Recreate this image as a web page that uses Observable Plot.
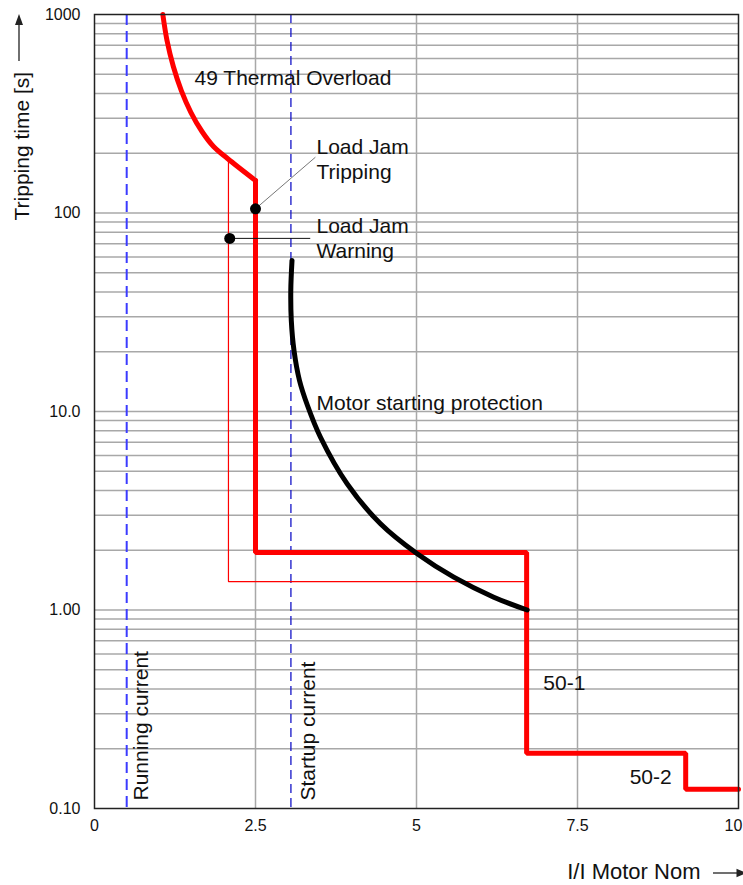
<!DOCTYPE html>
<html><head><meta charset="utf-8">
<script src="https://cdn.jsdelivr.net/npm/d3@7"></script>
<script src="https://cdn.jsdelivr.net/npm/@observablehq/plot@0.6"></script>
<style>
html,body{margin:0;padding:0;background:#fff;}
#chart svg{display:block;}
</style>
</head><body><div id="chart"></div>
<script>
// ---- tick labels ----
const xTicks = [0, 2.5, 5, 7.5];
const xTickLabels = ["0", "2.5", "5", "7.5"];
const xLastTick = [10];
const xLastTickLabel = ["10"];
const yTicks = [0.1, 1, 10, 100, 1000];
const yTickLabels = ["0.10", "1.00", "10.0", "100", "1000"];
const xGrid = [2.5, 5, 7.5];
const yGrid = [0.2, 0.3, 0.4, 0.5, 0.6, 0.7, 0.8, 0.9, 1,
               2, 3, 4, 5, 6, 7, 8, 9, 10,
               20, 30, 40, 50, 60, 70, 80, 90, 100,
               200, 300, 400, 500, 600, 700, 800, 900];

// ---- reference currents ----
const runningCurrent = 0.5;
const startupCurrent = 3.05;

// ---- 49 Thermal overload curve ----
const thermalI = [1.061, 1.126, 1.224, 1.348, 1.498, 1.669, 1.848, 2.065, 2.5];
const thermalT = [1000, 739.6, 547, 414, 320.8, 257.4, 216.3, 188.2, 145.8];

// ---- Load jam tripping + 50-1 / 50-2 step ----
const stepI = [2.5, 2.5, 6.71, 6.71, 9.18, 9.18, 10];
const stepT = [145.8, 1.95, 1.95, 0.19, 0.19, 0.125, 0.125];

// ---- Load jam warning (thin) ----
const warnI = [2.08, 2.08, 6.71];
const warnT = [186, 1.39, 1.39];

// ---- Motor starting protection ----
const startI = [3.067, 3.048, 3.056, 3.098, 3.183, 3.307, 3.509, 3.924, 4.441, 5.011, 5.579, 6.200, 6.719];
const startT = [57.65, 40.7, 28.73, 20.29, 14.33, 10.72, 7.42, 4.32, 2.718, 1.919, 1.463, 1.160, 1.0];

// ---- load jam points ----
const jamNames = ["Tripping", "Warning"];
const jamI = [2.5, 2.1];
const jamT = [105, 74.5];
const leaderEndI = [3.43, 3.35];
const leaderEndT = [191, 74.5];

// ---- annotation texts ----
const noteText = ["49 Thermal Overload", "Load Jam\nTripping", "Load Jam\nWarning",
                  "Motor starting protection", "50-1", "50-2"];
const noteI = [1.553, 3.447, 3.447, 3.447, 6.97, 8.31];
const noteT = [485, 188.6, 75.4, 11.19, 0.4347, 0.146];

const FONT = "'Liberation Sans', Arial, Helvetica, sans-serif";

const zip = (xs, ys) => xs.map((x, i) => ({x, y: ys[i]}));
const thermal = zip(thermalI, thermalT);
const step = zip(stepI, stepT);
const warn = zip(warnI, warnT);
const start = zip(startI, startT);
const jams = jamNames.map((n, i) => ({name: n, x: jamI[i], y: jamT[i], x2: leaderEndI[i], y2: leaderEndT[i]}));
const notes = noteText.map((t, i) => ({text: t, x: noteI[i], y: noteT[i]}));

const plot = Plot.plot({
  width: 743,
  height: 885,
  marginLeft: 94,
  marginRight: 5,
  marginTop: 14,
  marginBottom: 77,
  style: {fontFamily: FONT, fontSize: "16px", background: "#fff", color: "#111"},
  x: {domain: [0, 10]},
  y: {type: "log", domain: [0.1, 1000]},
  marks: [
    Plot.ruleY(yGrid, {stroke: "#a8a8a8", strokeWidth: 1.5}),
    Plot.ruleX(xGrid, {stroke: "#a8a8a8", strokeWidth: 1.5}),
    Plot.ruleX([runningCurrent], {stroke: "#3b3bff", strokeWidth: 2, strokeDasharray: "11,6"}),
    Plot.ruleX([startupCurrent], {stroke: "#1414c8", strokeWidth: 1.3, strokeDasharray: "9,5"}),
    Plot.line(warn, {x: "x", y: "y", stroke: "#ff0000", strokeWidth: 1.2, strokeLinejoin: "miter"}),
    Plot.line(thermal, {x: "x", y: "y", stroke: "#ff0000", strokeWidth: 5, curve: "catmull-rom"}),
    Plot.line(step, {x: "x", y: "y", stroke: "#ff0000", strokeWidth: 5, strokeLinejoin: "miter", strokeLinecap: "round"}),
    Plot.line(start, {x: "x", y: "y", stroke: "#000", strokeWidth: 5, curve: "catmull-rom"}),
    Plot.link(jams, {x1: "x", y1: "y", x2: "x2", y2: "y2", stroke: (d) => d.name === "Tripping" ? "#777" : "#111", strokeWidth: 1}),
    Plot.dot(jams, {x: "x", y: "y", r: 5.5, fill: "#000"}),
    Plot.text(notes, {x: "x", y: "y", text: "text", textAnchor: "start", lineAnchor: "middle", fontSize: 21, lineHeight: 1.19, fill: "#111"}),
    Plot.text(["Running current"], {x: () => runningCurrent, y: () => 0.1, text: (d) => d, rotate: -90, textAnchor: "start", lineAnchor: "middle", dx: 15, dy: -8, fontSize: 21, fill: "#111"}),
    Plot.text(["Startup current"], {x: () => startupCurrent, y: () => 0.1, text: (d) => d, rotate: -90, textAnchor: "start", lineAnchor: "middle", dx: 17, dy: -8, fontSize: 21, fill: "#111"}),
    Plot.text(["Tripping time [s]"], {frameAnchor: "top-left", text: (d) => d, rotate: -90, textAnchor: "start", lineAnchor: "middle", dx: -72.5, dy: 206, fontSize: 21, fill: "#111"}),
    Plot.text(["I/I Motor Nom"], {frameAnchor: "bottom-right", text: (d) => d, textAnchor: "end", lineAnchor: "middle", dx: -38, dy: 63, fontSize: 22, fill: "#111"}),
    Plot.frame({stroke: "#222", strokeWidth: 1.5}),
    Plot.axisX({ticks: xTicks, tickSize: 0, tickPadding: 11, fontSize: 16, label: null,
                tickFormat: (d) => xTickLabels[xTicks.indexOf(d)]}),
    Plot.axisX({ticks: xLastTick, tickSize: 0, tickPadding: 11, fontSize: 16, label: null, dx: -5,
                tickFormat: (d) => xLastTickLabel[xLastTick.indexOf(d)]}),
    Plot.axisY({ticks: yTicks, tickSize: 0, tickPadding: 14, fontSize: 16, label: null,
                tickFormat: (d) => yTickLabels[yTicks.indexOf(d)]})
  ]
});

document.getElementById("chart").appendChild(plot);

// decorative axis arrows
const svg = d3.select(plot);
const g = svg.append("g").attr("fill", "#222").attr("stroke", "#222");
g.append("line").attr("x1", 19).attr("x2", 19).attr("y1", 61).attr("y2", 22).attr("stroke-width", 1.3);
g.append("path").attr("d", "M19,14L15,25L23,25Z").attr("stroke", "none");
g.append("line").attr("x1", 713).attr("x2", 738).attr("y1", 873).attr("y2", 873).attr("stroke-width", 1.3);
g.append("path").attr("d", "M747,873L736.5,868.8L736.5,877.2Z").attr("stroke", "none");
</script>
</body></html>
